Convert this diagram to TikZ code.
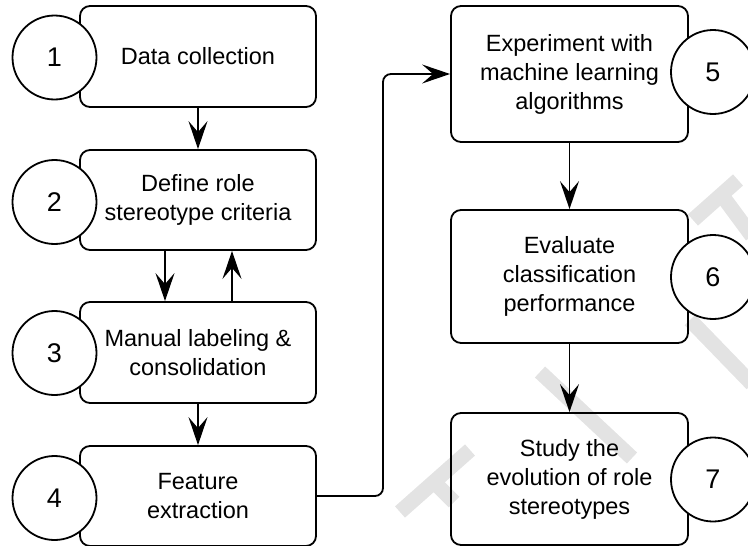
\documentclass[tikz,border=0pt]{standalone}
\usepackage{fontspec}
\setmainfont{Liberation Sans}
\usetikzlibrary{arrows.meta}
\begin{document}
\begin{tikzpicture}[x=1pt,y=-1pt,
  stepbox/.style={draw, line width=1.8pt, rounded corners=10pt,
    minimum width=236pt, align=center, inner sep=0pt,
    font=\fontsize{23.5}{29}\selectfont},
  numcircle/.style={draw, circle, line width=1.8pt, fill=white,
    minimum size=84pt, inner sep=0pt, font=\fontsize{27}{30}\selectfont},
  flow/.style={line width=1.8pt, -{Stealth[length=28pt,width=19pt,inset=11pt]}},
  wmstroke/.style={draw=black!11, line width=15pt, line cap=butt}
]
\useasboundingbox (0,0) rectangle (748,546);

% faint background watermark strokes
\path[wmstroke] (400,512) -- (470,450);
\path[wmstroke] (430,478) -- (454,502);
\path[wmstroke] (540,372) -- (632,458);
\path[wmstroke] (693,220) -- (738,180);
\path[wmstroke] (718,190) -- (752,236);
\path[wmstroke] (690,320) -- (752,384);

% left column
\node[stepbox, minimum height=101pt] (b1) at (198,56.5) {Data collection};
\node[stepbox, minimum height=100pt] (b2) at (198,200) {Define role\\stereotype criteria};
\node[stepbox, minimum height=101pt] (b3) at (198,352.5) {Manual labeling \&\\consolidation};
\node[stepbox, minimum height=100pt] (b4) at (198,496) {Feature\\extraction};

% right column
\node[stepbox, minimum width=237pt, minimum height=136pt] (b5) at (569.5,74) {Experiment with\\machine learning\\algorithms};
\node[stepbox, minimum width=237pt, minimum height=133pt] (b6) at (569.5,276.5) {Evaluate\\classification\\performance};
\node[stepbox, minimum width=237pt, minimum height=132pt] (b7) at (569.5,479) {Study the\\evolution of role\\stereotypes};

% step numbers
\node[numcircle] (n1) at (54.5,57.5) {1};
\node[numcircle] (n2) at (54.5,202) {2};
\node[numcircle] (n3) at (54.5,353) {3};
\node[numcircle] (n4) at (54.5,498) {4};
\node[numcircle] (n5) at (713,72) {5};
\node[numcircle] (n6) at (713,277) {6};
\node[numcircle] (n7) at (713,479.5) {7};

% connectors
\coordinate (bend) at (383,0);
\draw[flow] (b1) -- (b2);
\draw[flow] ([xshift=-33pt]b2.south) -- ([xshift=-33pt]b3.north);
\draw[flow] ([xshift=34pt]b3.north) -- ([xshift=34pt]b2.south);
\draw[flow] (b3) -- (b4);
\draw[flow, rounded corners=8pt] (b4.east) -| (bend |- b5.west) -- (b5.west);
\draw[flow] (b5) -- (b6);
\draw[flow] (b6) -- (b7);
\end{tikzpicture}
\end{document}
